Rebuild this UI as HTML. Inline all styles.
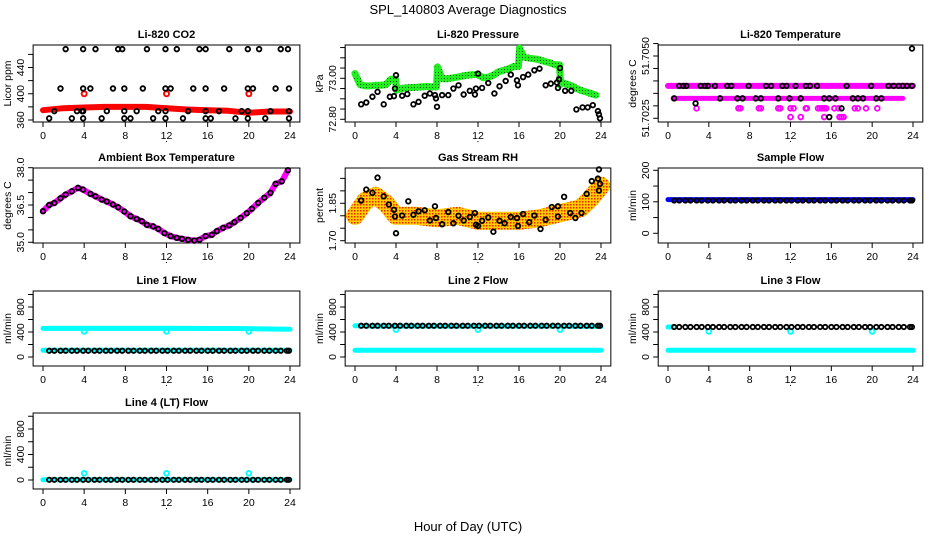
<!DOCTYPE html>
<html><head><meta charset="utf-8"><style>
html,body{margin:0;padding:0;background:#fff;}
svg{display:block;font-family:"Liberation Sans",Arial,sans-serif;}
</style></head><body>
<svg id="chart" width="936" height="540" viewBox="0 0 936 540" xmlns="http://www.w3.org/2000/svg">
<defs>
<pattern id="rhpat" width="3" height="3" patternUnits="userSpaceOnUse"><rect width="3" height="3" fill="#ffcc00"/><rect width="1.5" height="1.5" fill="#ee2200"/></pattern>
<pattern id="grpat" width="3" height="3" patternUnits="userSpaceOnUse"><rect width="3" height="3" fill="#22ee22"/><rect width="1" height="1" fill="#115511"/></pattern>
</defs>
<text x="468" y="14" text-anchor="middle" font-size="13">SPL_140803  Average Diagnostics</text>
<text x="468" y="531" text-anchor="middle" font-size="13">Hour of Day (UTC)</text>
</svg>
<script>
// ---- data arrays ----
const hrs = [0.6,1.1,1.7,2.2,2.8,3.3,3.9,4.4,5.0,5.5,6.1,6.6,7.2,7.7,8.3,8.8,9.4,9.9,10.5,11.0,11.6,12.1,12.7,13.2,13.8,14.3,14.9,15.4,16.0,16.5,17.1,17.6,18.2,18.7,19.3,19.8,20.4,20.9,21.5,22.0,22.6,23.1,23.7,23.9];
const bandT = [0,2,4,6,8,10,12,14,16,18,20,22,24];
// CO2
const co2Red = [375,378,379,380,380,380,378,376,375,374,371,373,373];
const co2RedOutT = [4,12,20];
const co2RedOutV = [400,400,400];
const co2TopT = [2.2,3.9,5.1,7.3,7.7,10.1,11.9,13,15.2,15.8,18.1,19.9,21,23.1,23.8];
const co2TopV = 468;
const co2MidT = [1.7,3.9,4.6,6.8,7.9,9.7,11.9,12.4,14.6,15.8,17.6,19.9,20.4,22.6,23.9];
const co2MidV = 408;
const co2LowT = [1.1,3.3,3.8,3.9,6.2,7.9,9.1,11.2,11.9,14.1,15.8,17.1,19.3,19.9,22.1,23.9];
const co2LowV = 373.5;
const co2BotT = [0.6,2.8,3.9,5.7,7.9,8.5,10.7,11.9,13.6,15.8,16.3,18.7,19.9,21.6,23.9];
const co2BotV = 362.5;
// Pressure
const prGreenT = [0,0.5,1,1.5,2,2.5,3,3.5,3.95,4.05,4.5,5,5.5,6,6.5,7,7.5,7.95,8.05,8.5,9,9.5,10,10.5,11,11.5,12,12.5,13,13.5,14,14.5,15,15.5,15.95,16.05,16.5,17,17.5,18,18.5,19,19.5,19.95,20.05,20.5,21,21.5,22,22.5,23,23.5];
const prGreenV = [73.023,72.969,72.963,72.963,72.966,72.966,72.969,72.995,72.995,72.942,72.950,72.953,72.955,72.956,72.958,72.960,72.958,72.958,73.055,72.998,72.998,73.002,73.006,73.011,73.015,73.018,73.018,73.003,73.006,73.015,73.031,73.039,73.047,73.058,73.058,73.147,73.103,73.098,73.095,73.090,73.082,73.076,73.066,73.066,72.982,72.974,72.966,72.953,72.942,72.934,72.926,72.918];
const prBlkT = [0.6,1.1,1.7,2.2,2.8,3.4,3.8,3.9,4,4.6,5.1,5.7,6.2,6.8,7.3,7.8,7.9,8,8.5,9.1,9.6,10.1,10.6,11.2,11.7,11.8,12,12.4,13,13.6,14.1,14.7,15.2,15.8,15.9,16.4,16.9,17.5,18,18.6,19.1,19.7,19.8,19.9,20,20.5,21.1,21.6,22.2,22.7,23.2,23.7,23.8,23.9];
const prBlkV = [72.873,72.882,72.910,72.934,72.873,72.910,72.913,72.950,73.015,72.915,72.923,72.873,72.885,72.915,72.926,72.918,72.902,72.861,72.918,72.918,72.950,72.966,72.921,72.939,72.921,72.950,73.023,72.953,72.977,72.926,72.961,72.987,73.018,72.990,72.966,73.006,73.018,73.039,73.047,72.966,72.974,72.979,72.953,72.995,73.050,72.939,72.939,72.848,72.858,72.858,72.869,72.840,72.824,72.805];
// Li-820 temperature
const tmpA = 51.7038, tmpB = 51.7033, tmpC = 51.7029, tmpD = 51.70255;
const tmpMagC = [2.8,6.9,7.1,8.9,9.1,10.8,11,12,12.3,13.5,13.6,14.7,14.9,15.1,15.3,15.5,16.3,16.7,18.3,18.6,19.4,20.5];
const tmpMagD = [12,13,15.3,16.8,17,17.2];
const tmpBlkA = [1.1,1.5,1.8,3.2,3.6,3.9,4.6,5.8,6.2,7.9,9.6,10.1,11.2,11.6,12.5,13.5,13.9,14.6,17.5,19.9,21.6,22.1,22.6,23,23.4,23.9];
const tmpBlkB = [0.6,5.1,6.8,7.3,8.6,9.1,10.8,11.9,13,15.3,15.8,16.4,18.1,18.6,19.1,20.4,20.9];
const tmpOutT = [2.7,17,15.8,23.9];
const tmpOutV = [51.7031,51.7029,51.70255,51.7053];
// Ambient box temperature
const ambT = [0,0.6,1.1,1.7,2.2,2.8,3.4,3.9,4.6,5.1,5.7,6.2,6.8,7.3,7.9,8.5,9.1,9.6,10.1,10.7,11.2,11.8,12.4,13,13.5,14.1,14.7,15.2,15.8,16.4,16.9,17.5,18.1,18.6,19.2,19.8,20.3,20.9,21.5,22.1,22.6,23.2,23.8];
const ambV = [36.25,36.5,36.58,36.77,36.92,37.05,37.19,37.12,36.95,36.85,36.72,36.64,36.52,36.41,36.24,36.05,35.94,35.85,35.70,35.64,35.54,35.37,35.25,35.18,35.14,35.10,35.07,35.10,35.25,35.30,35.45,35.58,35.68,35.81,35.98,36.17,36.35,36.58,36.79,36.99,37.35,37.45,37.9];
// Gas stream RH
const rhBandT = [0,1,2,3,4,6,8,10,12,14,16,18,20,22,23,24];
const rhBandV = [1.80,1.86,1.88,1.85,1.80,1.80,1.79,1.80,1.78,1.78,1.78,1.79,1.81,1.83,1.87,1.92];
const rhBlkT = [0.6,1.1,1.7,2.2,2.8,3.3,3.8,3.9,4,4.6,5.2,5.7,6.2,6.8,7.3,7.8,7.9,8.5,9.1,9.6,10.1,10.6,11.2,11.7,11.8,12,12.4,13,13.5,14.1,14.6,15.2,15.8,15.9,16.4,17,17.5,18.1,18.6,19.2,19.8,19.8,20.4,21,21.5,22.1,22.6,23.1,23.7,23.8,23.8,23.9];
const rhBlkV = [1.861,1.905,1.892,1.953,1.878,1.845,1.824,1.797,1.73,1.801,1.858,1.804,1.818,1.822,1.781,1.838,1.791,1.766,1.815,1.77,1.80,1.781,1.795,1.811,1.764,1.759,1.78,1.793,1.736,1.78,1.77,1.795,1.791,1.759,1.807,1.774,1.801,1.747,1.784,1.835,1.797,1.838,1.876,1.811,1.791,1.811,1.888,1.939,1.949,1.986,1.901,1.928];
// Flows
const sfBlue = [107,107,107,107,107,107,107,107,107,107,107,107,107];
const sfBlk = 104;
const l1Cyan = [458,458,457,457,457,457,457,457,456,456,455,448,445];
const l1Low = [107,107,107,107,107,107,107,107,107,107,107,107,107];
const l1BlkV = 100;
const l2Cyan = [500,495,495,495,495,495,495,495,495,495,495,490,490];
const l2Low = [107,107,107,107,107,107,107,107,107,107,107,107,107];
const l2BlkV = 500;
const l3Low = [107,107,107,107,107,107,107,107,107,107,107,107,107];
const l3BlkV = 480;
const l4Cyan = [5,5,5,5,5,5,5,5,5,5,5,5,5];
const l4BlkV = 3;
const dipT = [4,12,20];
const l1Dip = [410,410,410];
const l2Dip = [437,437,437];
const l3Dip = [410,410,410];
const l4Dip = [105,105,105];

// ---- layout ----
const svg = document.getElementById('chart');
const NS = 'http://www.w3.org/2000/svg';
const cols = [[43,290],[355,601],[668,913]];
const rows = [[45,122],[168,243],[291,366],[413,489]];
function mk(tag, attrs, parent){const e=document.createElementNS(NS,tag);for(const k in attrs)e.setAttribute(k,attrs[k]);(parent||svg).appendChild(e);return e;}

function panel(ci, ri, name, title, ylab, v0, y0, v1, y1, ticks, labels){
  const [x0,x24]=cols[ci], [top,bot]=rows[ri];
  const xs = t => x0 + t*(x24-x0)/24;
  const ys = v => y0 + (v-v0)*(y1-y0)/(v1-v0);
  const g = mk('g',{});
  
  
  const left = xs(-0.96), right = xs(24.96);
  const box = mk('rect',{x:left,y:top,width:right-left,height:bot-top,fill:'none',stroke:'#000','stroke-width':1},g);
  
  
  const tt = mk('text',{x:(left+right)/2,y:top-7,'text-anchor':'middle','font-size':11,'font-weight':'bold'},g);
  tt.textContent = title;
  
  
  const xa = mk('g',{},g);
  
  
  mk('line',{x1:xs(0),x2:xs(24),y1:bot,y2:bot,stroke:'#000'},xa);
  [0,4,8,12,16,20,24].forEach(t=>{
    mk('line',{x1:xs(t),x2:xs(t),y1:bot,y2:bot+5,stroke:'#000'},xa);
    const l = mk('text',{x:xs(t),y:bot+17,'text-anchor':'middle','font-size':10.5},xa);
    l.textContent = t;
  });
  mk('rect',{x:(left+right)/2-0.5,y:bot+19,width:1,height:1,fill:'#000'},g);
  const ya = mk('g',{},g);
  
  
  ticks.forEach(v=>{
    mk('line',{x1:left-5,x2:left,y1:ys(v),y2:ys(v),stroke:'#000'},ya);
  });
  mk('line',{x1:left,x2:left,y1:ys(ticks[0]),y2:ys(ticks[ticks.length-1]),stroke:'#000'},ya);
  labels.forEach(s=>{
    const v=parseFloat(s);
    const l = mk('text',{x:0,y:0,'text-anchor':'middle','font-size':10.5,transform:`translate(${left-9},${ys(v)}) rotate(-90)`},ya);
    l.textContent = s;
  });
  const yl = mk('text',{x:0,y:0,'text-anchor':'middle','font-size':10.5,transform:`translate(${left-22},${(top+bot)/2}) rotate(-90)`},g);
  yl.textContent = ylab;
  
  
  const plot = mk('g',{},g);
  
  
  return {xs, ys, g:plot};
}
function pts(p, T, V, color, r, sw, nm){
  const g = mk('g',{},p.g);
  
  
  T.forEach((t,i)=>{
    const v = Array.isArray(V)?V[i]:V;
    mk('circle',{cx:p.xs(t),cy:p.ys(v),r:r||2.3,fill:'none',stroke:color,'stroke-width':sw||1.8},g);
  });
}
function band(p, T, V, color, w, nm){
  const d = T.map((t,i)=>(i?'L':'M')+p.xs(t).toFixed(1)+','+p.ys(V[i]).toFixed(1)).join('');
  const e = mk('path',{d, fill:'none', stroke:color, 'stroke-width':w, 'stroke-linecap':'round','stroke-linejoin':'round'},p.g);
  
  
}

// Panel 1: CO2
let p = panel(0,0,'co2','Li-820 CO2','Licor ppm',360,120,440,67.5,[360,380,400,420,440,460],['360','400','440']);
band(p,bandT,co2Red,'#ff0000',6,'co2-red-band');
pts(p,co2RedOutT,co2RedOutV,'#ff0000',2.5,1.9,'co2-red-points');
pts(p,co2TopT,co2TopT.map(()=>co2TopV),'#000',2.3,1.8,'co2-black-top');
pts(p,co2MidT,co2MidT.map(()=>co2MidV),'#000',2.3,1.8,'co2-black-mid');
pts(p,co2LowT,co2LowT.map(()=>co2LowV),'#000',2.3,1.8,'co2-black-low');
pts(p,co2BotT,co2BotT.map(()=>co2BotV),'#000',2.3,1.8,'co2-black-bottom');

// Panel 2: Pressure
p = panel(1,0,'pressure','Li-820 Pressure','kPa',72.80,119.3,73.00,78.3,[72.80,72.85,72.90,72.95,73.00,73.05,73.10,73.15],['72.80','73.00']);
band(p,prGreenT,prGreenV,'url(#grpat)',7,'pressure-green-band');
pts(p,[0,8,16,20],[73.023,73.055,73.147,72.966],'#22ee22',2.4,1.8,'pressure-green-points');
pts(p,prBlkT,prBlkV,'#000',2.3,1.8,'pressure-black-points');

// Panel 3: Li-820 temperature
p = panel(2,0,'licor-temp','Li-820 Temperature','degrees C',51.7025,118.3,51.7050,56,[51.7025,51.7030,51.7035,51.7040,51.7045,51.7050,51.7055],['51.7025','51.7050']);
band(p,[0,24],[tmpA,tmpA],'#ff00ff',6,'temp-magenta-upper');
band(p,[0.5,23],[tmpB,tmpB],'#ff00ff',5,'temp-magenta-lower');
pts(p,tmpMagC,tmpMagC.map(()=>tmpC),'#ff00ff',2.4,1.8,'temp-magenta-c');
pts(p,tmpMagD,tmpMagD.map(()=>tmpD),'#ff00ff',2.4,1.8,'temp-magenta-d');
pts(p,tmpBlkA,tmpBlkA.map(()=>tmpA),'#000',2.3,1.8,'temp-black-a');
pts(p,tmpBlkB,tmpBlkB.map(()=>tmpB),'#000',2.3,1.8,'temp-black-b');
pts(p,tmpOutT,tmpOutV,'#000',2.3,1.8,'temp-black-outliers');

// Panel 4: Ambient
p = panel(0,1,'ambient','Ambient Box Temperature','degrees C',35.0,242.3,38.0,167.7,[35.0,35.5,36.0,36.5,37.0,37.5,38.0],['35.0','36.5','38.0']);
band(p,ambT,ambV,'#ff00ff',6,'ambient-magenta-band');
pts(p,ambT,ambV,'#000',2.3,1.8,'ambient-black-points');

// Panel 5: Gas RH
p = panel(1,1,'gas-rh','Gas Stream RH','percent',1.70,240.7,1.85,203.3,[1.70,1.75,1.80,1.85,1.90,1.95],['1.70','1.85']);
band(p,rhBandT,rhBandV,'url(#rhpat)',18,'rh-orange-band');
pts(p,rhBlkT,rhBlkV,'#000',2.3,1.8,'rh-black-points');

// Panel 6: Sample flow
p = panel(2,1,'sample-flow','Sample Flow','ml/min',0,233.3,200,170.3,[0,50,100,150,200],['0','100','200']);
band(p,bandT,sfBlue,'#0000ff',5,'sample-blue-band');
pts(p,hrs,hrs.map(()=>sfBlk),'#000',2.2,1.8,'sample-black-points');

const flowTicks=[0,200,400,600,800,1000], flowLab=['0','400','800'];
// Line 1
p = panel(0,2,'line1-flow','Line 1 Flow','ml/min',0,357,800,307,flowTicks,flowLab);
band(p,bandT,l1Cyan,'#00ffff',5,'line1-cyan-upper');
band(p,bandT,l1Low,'#00ffff',5,'line1-cyan-lower');
pts(p,dipT,l1Dip,'#00ffff',2.4,1.9,'line1-cyan-dips');
pts(p,hrs,hrs.map(()=>l1BlkV),'#000',2.2,1.8,'line1-black-points');
// Line 2
p = panel(1,2,'line2-flow','Line 2 Flow','ml/min',0,357,800,307,flowTicks,flowLab);
band(p,bandT,l2Cyan,'#00ffff',5,'line2-cyan-upper');
band(p,bandT,l2Low,'#00ffff',5,'line2-cyan-lower');
pts(p,dipT,l2Dip,'#00ffff',2.4,1.9,'line2-cyan-dips');
pts(p,hrs,hrs.map(()=>l2BlkV),'#000',2.2,1.8,'line2-black-points');
// Line 3
p = panel(2,2,'line3-flow','Line 3 Flow','ml/min',0,357,800,307,flowTicks,flowLab);
band(p,[0,0.4],[480,480],'#00ffff',5,'line3-cyan-upper');
band(p,bandT,l3Low,'#00ffff',5,'line3-cyan-lower');
pts(p,dipT,l3Dip,'#00ffff',2.4,1.9,'line3-cyan-dips');
pts(p,hrs,hrs.map(()=>l3BlkV),'#000',2.2,1.8,'line3-black-points');
// Line 4
p = panel(0,3,'line4-flow','Line 4 (LT) Flow','ml/min',0,480,800,429,flowTicks,flowLab);
band(p,bandT,l4Cyan,'#00ffff',5,'line4-cyan-band');
pts(p,dipT,l4Dip,'#00ffff',2.4,1.9,'line4-cyan-spikes');
pts(p,hrs,hrs.map(()=>l4BlkV),'#000',2.2,1.8,'line4-black-points');
</script>
</body></html>
